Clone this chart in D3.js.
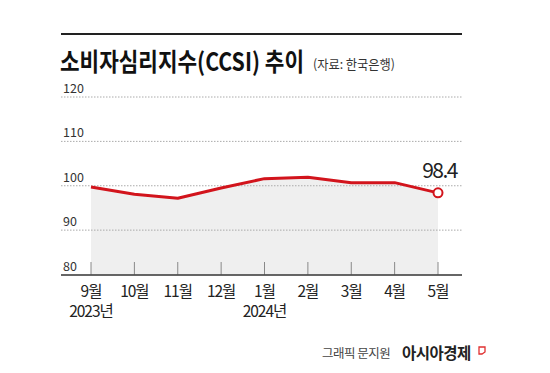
<!DOCTYPE html>
<html><head><meta charset="utf-8">
<script src="https://cdn.jsdelivr.net/npm/d3@7"></script>
<style>body{margin:0;background:#fff}svg{display:block}text{font-family:"Noto Sans CJK KR","Noto Sans",sans-serif}</style>
</head><body>
<svg id="c" width="550" height="373"></svg>
<script>
const months = ["9월","10월","11월","12월","1월","2월","3월","4월","5월"];
const values = [99.7, 98.1, 97.2, 99.5, 101.6, 101.9, 100.7, 100.7, 98.4];
const yTicks = [80, 90, 100, 110, 120];
const yearLabels = [{idx:0, text:"2023년"}, {idx:4, text:"2024년"}];
const title = "소비자심리지수(CCSI) 추이";
const source = "(자료: 한국은행)";

const svg = d3.select("#c");
const x = d3.scalePoint().domain(months).range([91, 438]);
const y = d3.scaleLinear().domain([80, 120]).range([274.5, 97]);

// top rule
svg.append("line").attr("x1",61).attr("x2",462).attr("y1",34).attr("y2",34).attr("stroke","#222").attr("stroke-width",2);
// title (horizontally condensed via transform)
const tt = svg.append("text").attr("font-size",25).attr("font-weight",700).attr("fill","#111").text(title);
const tw = tt.node().getComputedTextLength();
tt.attr("transform",`translate(60,71) scale(${244/tw},1)`);
const st = svg.append("text").attr("font-size",13).attr("fill","#333").text(source);
const sw = st.node().getComputedTextLength();
st.attr("transform",`translate(313,69) scale(${82/sw},1)`);

// area
const area = d3.area().x((d,i)=>x(months[i])).y0(y(80)).y1(d=>y(d));
svg.append("path").datum(values).attr("d",area).attr("fill","#efefef");

// grid
yTicks.filter(t=>t>80).forEach(t=>{
  svg.append("line").attr("x1",61).attr("x2",462).attr("y1",y(t)).attr("y2",y(t))
    .attr("stroke","#aaa").attr("stroke-width",1).attr("stroke-dasharray","1.5,1.5");
});
yTicks.forEach(t=>{
  svg.append("text").attr("x",63).attr("y",y(t)-4).attr("font-size",12.5).attr("fill","#333").text(t);
});

// ticks
months.forEach(m=>{
  svg.append("line").attr("x1",x(m)).attr("x2",x(m)).attr("y1",262).attr("y2",y(80)).attr("stroke","#888").attr("stroke-width",1);
});
// axis line
svg.append("line").attr("x1",61).attr("x2",462).attr("y1",y(80)+0.5).attr("y2",y(80)+0.5).attr("stroke","#333").attr("stroke-width",1.5);

// x labels
months.forEach(m=>{
  svg.append("text").attr("x",x(m)).attr("y",297).attr("text-anchor","middle").attr("font-size",15.5).attr("fill","#222")
    .attr("letter-spacing",-1).text(m);
});
yearLabels.forEach(d=>{
  svg.append("text").attr("x",x(months[d.idx])).attr("y",317).attr("text-anchor","middle").attr("font-size",15.5).attr("fill","#222")
    .attr("letter-spacing",-1).text(d.text);
});

// line
const line = d3.line().x((d,i)=>x(months[i])).y(d=>y(d));
svg.append("path").datum(values).attr("d",line).attr("fill","none").attr("stroke","#d2141c").attr("stroke-width",3).attr("stroke-linejoin","round");
const last = values.length-1;
svg.append("circle").attr("cx",x(months[last])).attr("cy",y(values[last])).attr("r",4.5).attr("fill","#fff").attr("stroke","#d2141c").attr("stroke-width",2);
svg.append("text").attr("x",x(months[last])+19).attr("y",178).attr("text-anchor","end").attr("font-size",21).attr("fill","#222")
  .attr("letter-spacing",-1.5).text(values[last]);

// footer
svg.append("text").attr("x",322).attr("y",358).attr("font-size",12.5).attr("fill","#444").attr("letter-spacing",-0.5).text("그래픽 문지원");
svg.append("text").attr("x",402).attr("y",359).attr("font-size",15.5).attr("font-weight",700).attr("fill","#222").attr("letter-spacing",-0.5).text("아시아경제");
svg.append("path").attr("d","M479,347 L485,347 L485,352 L482,354 L479,354 Z").attr("fill","none").attr("stroke","#e03030").attr("stroke-width",1.3);
</script>
</body></html>
